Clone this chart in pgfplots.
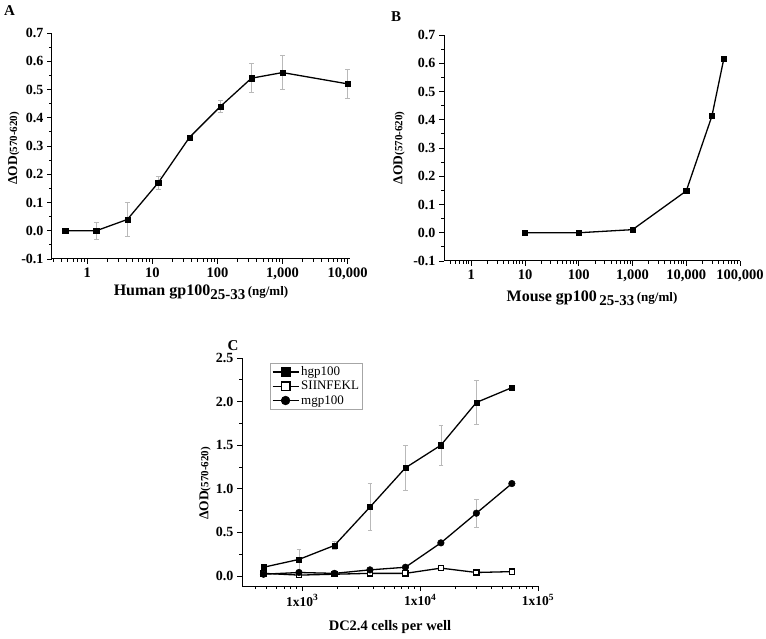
\documentclass[border=0pt]{standalone}
\usepackage{fontspec}
\setmainfont{Liberation Serif}
\usepackage{pgfplots}
\pgfplotsset{compat=1.18}

\pgfplotsset{
  odpanel/.style={
    scale only axis,
    anchor=south west,
    axis lines=left,
    axis line style={-, line width=1pt},
    tick align=outside,
    major tick length=5pt,
    minor tick length=3pt,
    every tick/.style={black, line width=0.8pt},
    ticklabel style={font=\fontsize{14}{14}\selectfont\bfseries},
    xticklabel style={font=\fontsize{14.5}{14.5}\selectfont\bfseries},
    clip=false,
  },
  odline/.style={black, line width=1.3pt, mark=square*, mark size=2.6pt,
    mark options={solid, line width=0.5pt}},
  errb/.style={error bars/.cd, y dir=both, y explicit,
    error bar style={gray!55, line width=0.7pt},
    error mark options={rotate=90, mark size=2.4pt, gray!55, line width=0.7pt}},
}
\newcommand{\odlabel}{{\bfseries{\fontsize{13.5}{13.5}\selectfont ΔOD}{\fontsize{11}{11}\selectfont(570-620)}}}

\begin{document}
\begin{tikzpicture}
\path[use as bounding box] (0,0) rectangle (766pt,638pt);

% panel letters
\node[font=\fontsize{15}{15}\selectfont\bfseries] at (9.5pt,627pt) {A};
\node[font=\fontsize{15}{15}\selectfont\bfseries] at (396pt,621pt) {B};
\node[font=\fontsize{15}{15}\selectfont\bfseries] at (233pt,292pt) {C};

% A: human gp100
\begin{semilogxaxis}[odpanel, at={(52pt,379pt)}, width=298pt, height=226pt,
  xmin=0.286, xmax=10900, ymin=-0.1, ymax=0.7,
  xtick={1,10,100,1000,10000}, xticklabels={1,10,100,{1,000},{10,000}},
  minor xtick={0.3,0.4,0.5,0.6,0.7,0.8,0.9,2,3,4,5,6,7,8,9,20,30,40,50,60,70,80,90,200,300,400,500,600,700,800,900,2000,3000,4000,5000,6000,7000,8000,9000},
  ytick={-0.1,0,0.1,0.2,0.3,0.4,0.5,0.6,0.7},
  yticklabels={-0.1,0.0,0.1,0.2,0.3,0.4,0.5,0.6,0.7},
  minor ytick={-0.05,0.05,0.15,0.25,0.35,0.45,0.55,0.65},
  xlabel={\bfseries{\fontsize{16}{16}\selectfont Human gp100}\raisebox{-3.5pt}{\fontsize{15}{15}\selectfont 25-33} {\fontsize{13}{13}\selectfont(ng/ml)}},
  xlabel style={at={(axis description cs:0.5,0)}, anchor=base, yshift=-37pt},
  ylabel={\odlabel},
  ylabel style={at={(axis description cs:-0.128,0.49)}, anchor=center},
]
\addplot[odline, errb] table[x=x, y=y, y error=e] {
x y e
0.457 0.000 0.000
1.37 0.000 0.031
4.12 0.040 0.061
12.3 0.170 0.022
37.0 0.330 0.006
111 0.440 0.021
333 0.540 0.051
1000 0.560 0.060
10000 0.520 0.050
};
\end{semilogxaxis}

% B: mouse gp100
\begin{semilogxaxis}[odpanel, at={(444pt,377pt)}, width=296pt, height=226pt,
  xmin=0.31, xmax=100000, ymin=-0.1, ymax=0.7,
  xtick={1,10,100,1000,10000,100000}, xticklabels={1,10,100,{1,000},{10,000},{100,000}},
  minor xtick={0.4,0.5,0.6,0.7,0.8,0.9,2,3,4,5,6,7,8,9,20,30,40,50,60,70,80,90,200,300,400,500,600,700,800,900,2000,3000,4000,5000,6000,7000,8000,9000,20000,30000,40000,50000,60000,70000,80000,90000},
  ytick={-0.1,0,0.1,0.2,0.3,0.4,0.5,0.6,0.7},
  yticklabels={-0.1,0.0,0.1,0.2,0.3,0.4,0.5,0.6,0.7},
  minor ytick={-0.05,0.05,0.15,0.25,0.35,0.45,0.55,0.65},
  xlabel={\bfseries{\fontsize{16}{16}\selectfont Mouse gp100} \raisebox{-3.5pt}{\fontsize{15}{15}\selectfont 25-33} {\fontsize{13}{13}\selectfont(ng/ml)}},
  xlabel style={at={(axis description cs:0.5,0)}, anchor=base, yshift=-41pt},
  ylabel={\odlabel},
  ylabel style={at={(axis description cs:-0.152,0.5)}, anchor=center},
]
\addplot[odline] table[x=x, y=y] {
x y
10 0.000
100 0.000
1000 0.011
10000 0.148
30000 0.413
50000 0.616
};
\end{semilogxaxis}

% C: DC2.4 titration
\begin{semilogxaxis}[odpanel, at={(242pt,52pt)}, width=296pt, height=228pt,
  xmin=308, xmax=100000, ymin=-0.115, ymax=2.5,
  xtick={1000,10000,100000},
  xticklabels={1x10\textsuperscript{3},1x10\textsuperscript{4},1x10\textsuperscript{5}},
  xticklabel style={font=\fontsize{13.5}{13.5}\selectfont\bfseries},
  minor xtick={400,500,600,700,800,900,2000,3000,4000,5000,6000,7000,8000,9000,20000,30000,40000,50000,60000,70000,80000,90000},
  ytick={0,0.5,1,1.5,2,2.5},
  yticklabels={0.0,0.5,1.0,1.5,2.0,2.5},
  minor ytick={0.25,0.75,1.25,1.75,2.25},
  xlabel={\bfseries\fontsize{14.5}{14.5}\selectfont DC2.4 cells per well},
  xlabel style={at={(axis description cs:0.5,0)}, anchor=base, yshift=-44pt},
  ylabel={\odlabel},
  ylabel style={at={(axis description cs:-0.125,0.45)}, anchor=center},
  legend style={at={(0.095,0.978)}, anchor=north west, draw=gray!70, line width=0.6pt,
    font=\fontsize{13}{13}\selectfont, inner sep=1.5pt, row sep=0pt, cells={anchor=west}},
  legend image code/.code={\draw[mark repeat=2, mark phase=2, #1, mark size=4.4pt]
    plot coordinates {(0pt,0pt) (13pt,0pt) (26pt,0pt)};},
]
\addplot[odline, errb] table[x=x, y=y, y error=e] {
x y e
468.75 0.10 0.00
937.5 0.19 0.12
1875 0.35 0.05
3750 0.79 0.27
7500 1.24 0.26
15000 1.50 0.23
30000 1.99 0.25
60000 2.16 0.00
};
\addplot[odline, mark options={fill=white}] table[x=x, y=y] {
x y
468.75 0.03
937.5 0.01
1875 0.02
3750 0.03
7500 0.03
15000 0.09
30000 0.04
60000 0.05
};
\addplot[odline, mark=*, mark size=3.3pt, errb] table[x=x, y=y, y error=e] {
x y e
468.75 0.02 0.01
937.5 0.04 0.03
1875 0.03 0.00
3750 0.07 0.00
7500 0.10 0.00
15000 0.38 0.02
30000 0.72 0.16
60000 1.06 0.00
};
\legend{hgp100,SIINFEKL,mgp100}
\end{semilogxaxis}
\end{tikzpicture}
\end{document}
